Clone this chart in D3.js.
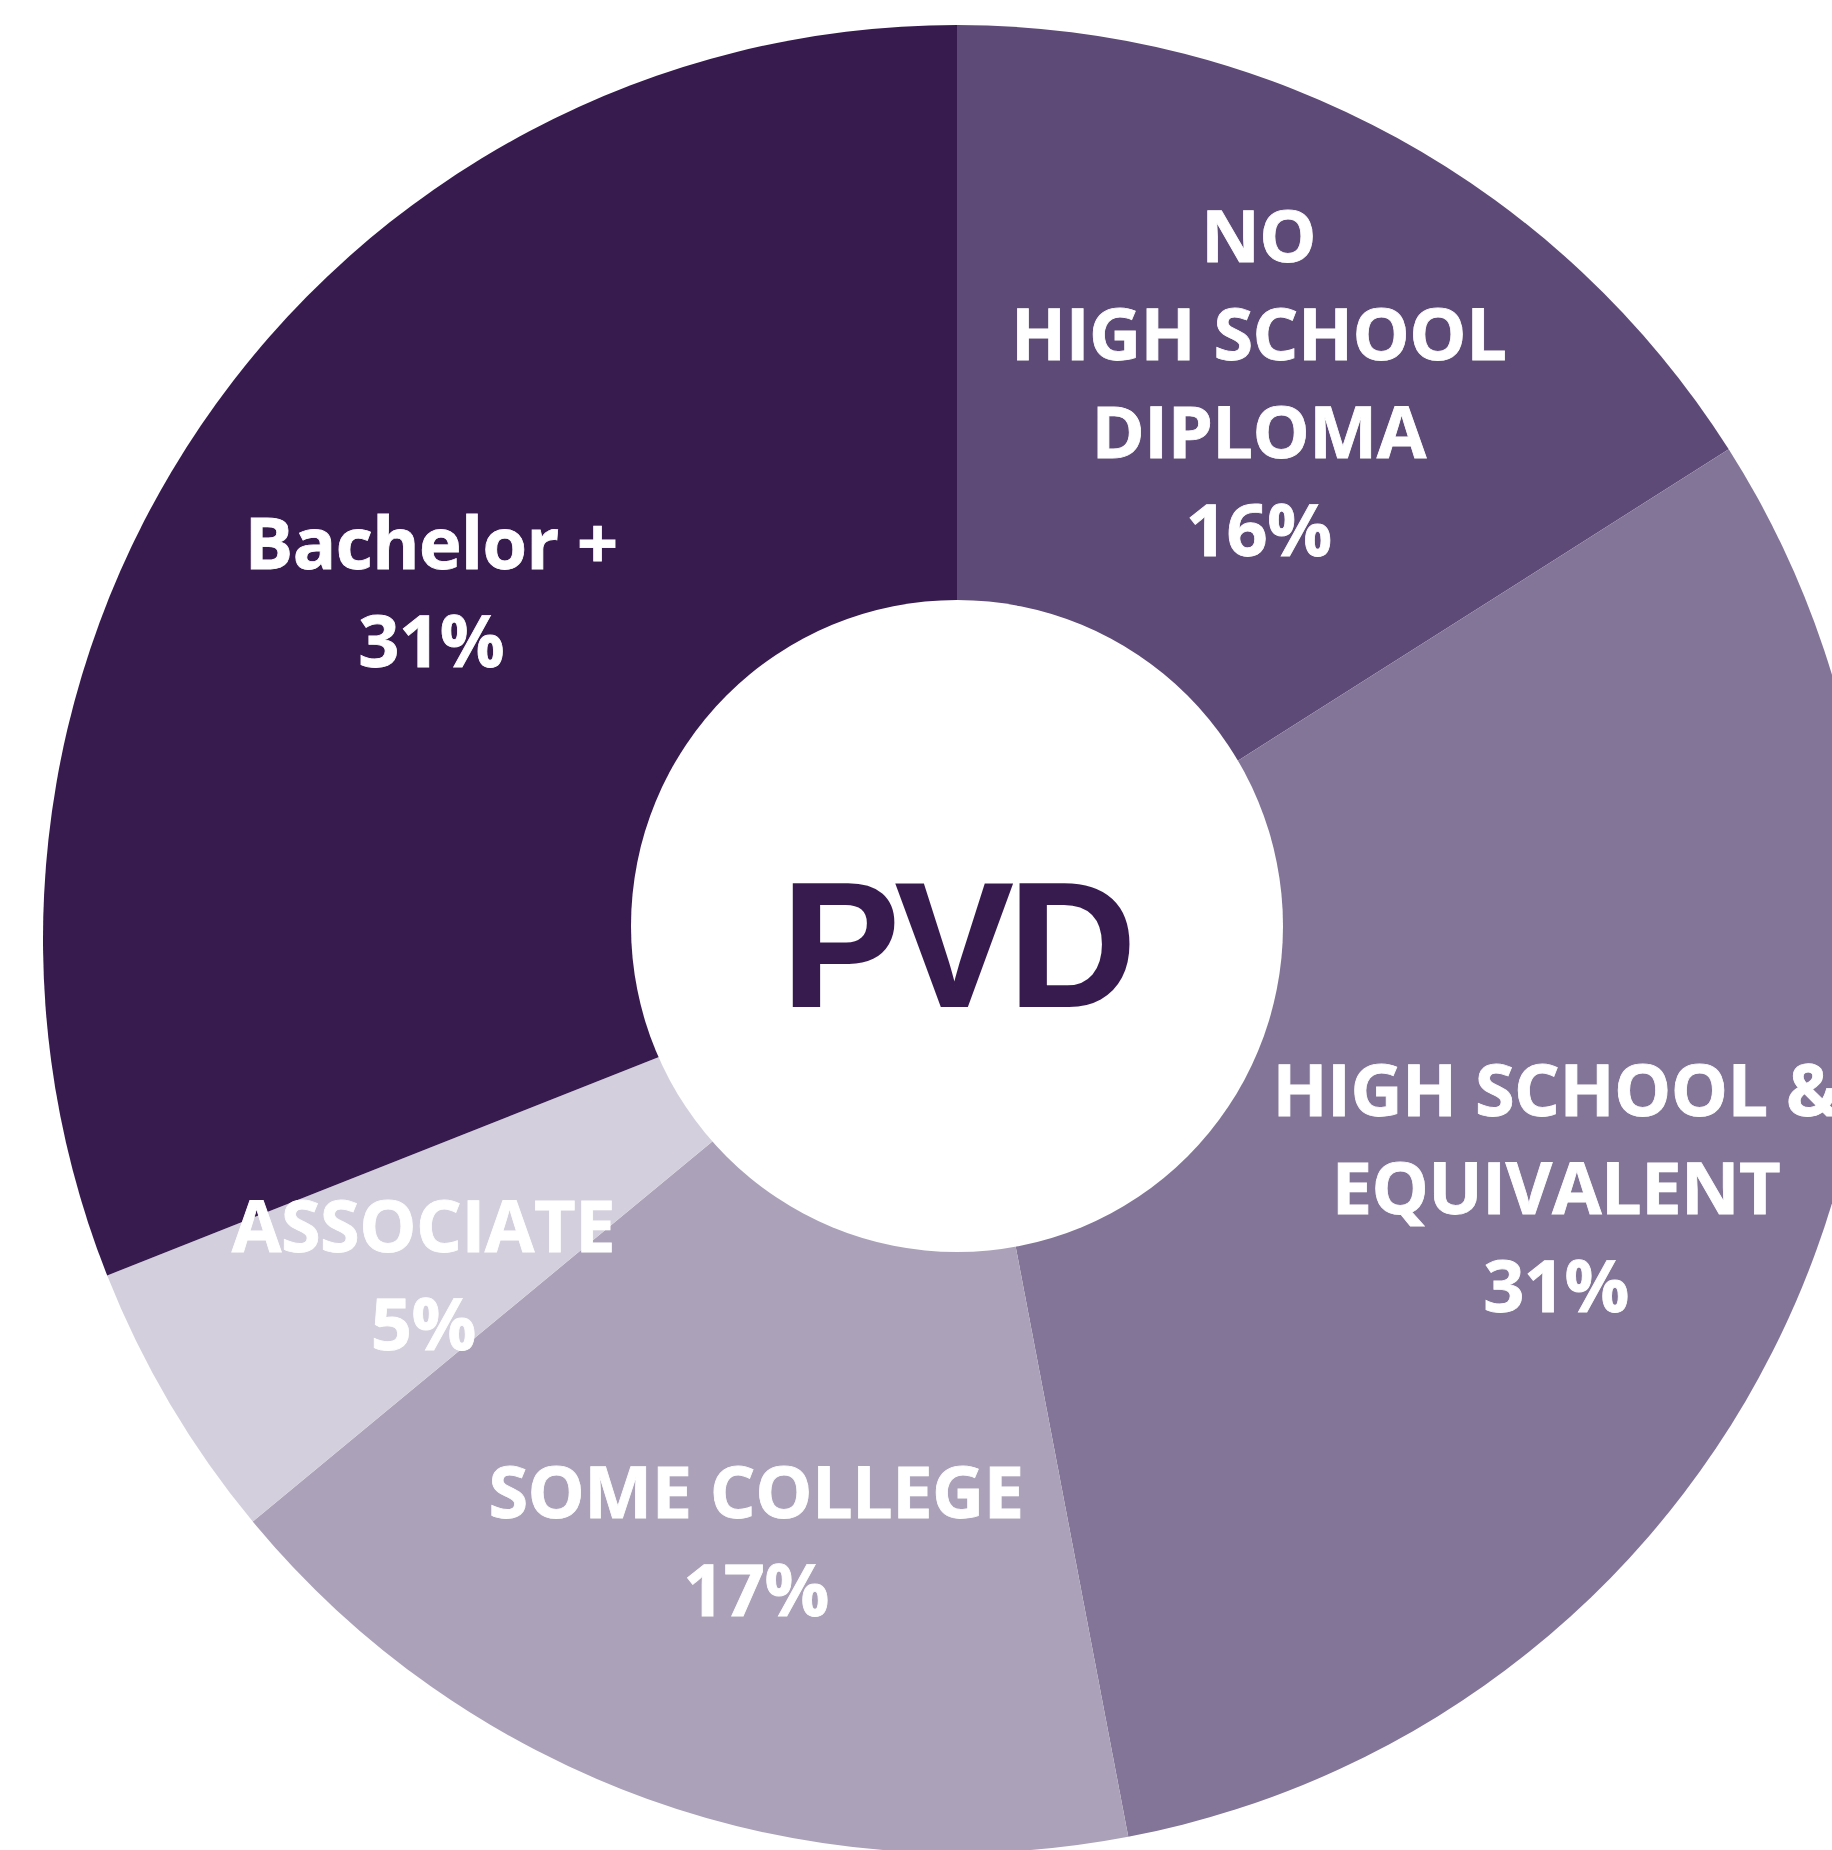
<!DOCTYPE html>
<html>
<head>
<meta charset="utf-8">
<script src="https://cdn.jsdelivr.net/npm/d3@7"></script>
<style>
  html, body { margin: 0; padding: 0; background: #fff; overflow: hidden; }
  svg { display: block; }
</style>
</head>
<body>
<svg id="chart"></svg>
<script>
// education attainment, Providence
const categories = ['NO HIGH SCHOOL DIPLOMA', 'HIGH SCHOOL & EQUIVALENT', 'SOME COLLEGE', 'ASSOCIATE', 'Bachelor +'];
const labelLines = [
  ['NO', 'HIGH SCHOOL', 'DIPLOMA'],
  ['HIGH SCHOOL &', 'EQUIVALENT'],
  ['SOME COLLEGE'],
  ['ASSOCIATE'],
  ['Bachelor +']
];
const values = [16, 31, 17, 5, 31];
const colors = ['#5e4a76', '#837598', '#aba2b9', '#d4cfdd', '#371b4f'];
const centerLabel = 'PVD';

// layout
const width = 1832, height = 1850;
const cx = 957, cy = 939;
const outerR = 914, holeR = 326, labelR = 620;
const lineH = 98;
const labelNudge = [[3, -12], [30, 4], [9, 20], [0, 21], [-13, 2]];

const svg = d3.select('#chart').attr('width', width).attr('height', height);
const g = svg.append('g').attr('transform', `translate(${cx},${cy})`);

const data = categories.map((c, i) => ({ name: c, value: values[i], lines: labelLines[i], color: colors[i], nudge: labelNudge[i] }));

const pie = d3.pie().value(d => d.value).sort(null);
const arc = d3.arc().innerRadius(0).outerRadius(outerR);
const labelArc = d3.arc().innerRadius(labelR).outerRadius(labelR);
const arcs = pie(data);

g.selectAll('path.slice')
  .data(arcs)
  .join('path')
  .attr('class', 'slice')
  .attr('d', arc)
  .attr('fill', d => d.data.color);

// white hole, sits a little above the pie centre
g.append('circle')
  .attr('cx', 0)
  .attr('cy', -13)
  .attr('r', holeR)
  .attr('fill', '#fff');

g.append('text')
  .attr('x', 0)
  .attr('y', 67)
  .attr('text-anchor', 'middle')
  .attr('font-family', '"Liberation Sans", Arial, sans-serif')
  .attr('font-weight', 700)
  .attr('font-size', 176)
  .attr('letter-spacing', -4)
  .attr('fill', '#371b4f')
  .attr('stroke', '#371b4f')
  .attr('stroke-width', 2)
  .text(centerLabel);

const labels = g.selectAll('text.lbl')
  .data(arcs)
  .join('text')
  .attr('class', 'lbl')
  .attr('text-anchor', 'middle')
  .attr('font-family', '"Open Sans", sans-serif')
  .attr('font-weight', 700)
  .attr('font-size', 72)
  .attr('letter-spacing', -0.5)
  .attr('fill', '#fff')
  .attr('stroke', '#fff')
  .attr('stroke-width', 0.8)
  .attr('transform', d => {
    const [x, y] = labelArc.centroid(d);
    return `translate(${x + d.data.nudge[0]},${y + d.data.nudge[1]})`;
  });

labels.each(function(d) {
  const lines = d.data.lines.concat([d.data.value + '%']);
  const top = -(lines.length - 1) * lineH / 2 + 25;
  d3.select(this).selectAll('tspan')
    .data(lines)
    .join('tspan')
    .attr('x', 0)
    .attr('y', (l, i) => top + i * lineH)
    .text(l => l);
});
</script>
</body>
</html>
